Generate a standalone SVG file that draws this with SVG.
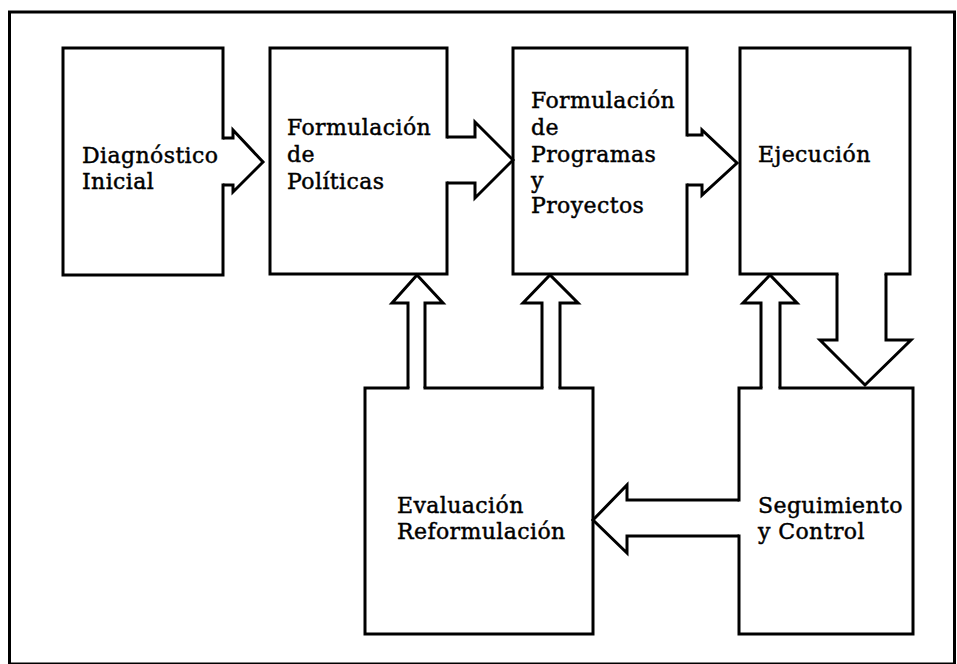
<svg xmlns="http://www.w3.org/2000/svg" width="957" height="664" viewBox="0 0 957 664">
  <style>
    .frame { fill: none; stroke: #000; stroke-width: 3; }
    .box { fill: #fff; stroke: #000; stroke-width: 3; stroke-linejoin: miter; }
    .edge { fill: none; stroke: #000; stroke-width: 3; stroke-linejoin: miter; }
    .gap { fill: #fff; stroke: none; }
    .label { font-family: "DejaVu Serif", "Liberation Serif", serif; font-size: 22px; letter-spacing: 0.4px; fill: #000; stroke: #000; stroke-width: 0.45px; }
  </style>
  <rect width="957" height="664" fill="#fff"/>
  <!-- outer border -->
  <rect class="frame" x="9.5" y="12" width="945" height="652"/>

  <g id="diagnostico">
    <rect class="box" x="63" y="48" width="160" height="227"/>
    <text class="label" x="82" y="163">Diagnóstico</text>
    <text class="label" x="82" y="189">Inicial</text>
  </g>

  <g id="formulacion-politicas">
    <rect class="box" x="270" y="48" width="177" height="226"/>
    <text class="label" x="287" y="135">Formulación</text>
    <text class="label" x="287" y="162">de</text>
    <text class="label" x="287" y="189">Políticas</text>
  </g>

  <g id="formulacion-programas">
    <rect class="box" x="513" y="48" width="174" height="226"/>
    <text class="label" x="531" y="108">Formulación</text>
    <text class="label" x="531" y="135">de</text>
    <text class="label" x="531" y="162">Programas</text>
    <text class="label" x="531" y="188">y</text>
    <text class="label" x="531" y="213">Proyectos</text>
  </g>

  <g id="ejecucion">
    <rect class="box" x="740" y="48" width="170" height="226"/>
    <text class="label" x="758" y="162">Ejecución</text>
  </g>

  <g id="evaluacion">
    <rect class="box" x="365" y="388" width="228" height="246"/>
    <text class="label" x="397" y="513">Evaluación</text>
    <text class="label" x="397" y="539">Reformulación</text>
  </g>

  <g id="seguimiento">
    <rect class="box" x="739" y="388" width="174" height="246"/>
    <text class="label" x="758" y="513">Seguimiento</text>
    <text class="label" x="758" y="539">y Control</text>
  </g>

  <g id="connectors">
    <!-- Diagnóstico -> Políticas -->
    <rect class="gap" x="221" y="139.5" width="4" height="44"/>
    <polyline class="edge" points="223,138 233,138 233,130 263,162 233,192 233,185 223,185"/>
    <!-- Políticas -> Programas -->
    <rect class="gap" x="445" y="138.5" width="4" height="43"/>
    <polyline class="edge" points="447,137 475,137 475,122 513,160 475,198 475,183 447,183"/>
    <!-- Programas -> Ejecución -->
    <rect class="gap" x="685" y="136.5" width="4" height="47"/>
    <polyline class="edge" points="687,135 702,135 702,130 737,163 702,195 702,185 687,185"/>
    <!-- Evaluación -> Políticas -->
    <rect class="gap" x="409.5" y="386" width="14" height="4"/>
    <polyline class="edge" points="408,388 408,303 392,303 417,275 443,303 425,303 425,388"/>
    <!-- Evaluación -> Programas -->
    <rect class="gap" x="543.5" y="386" width="15" height="4"/>
    <polyline class="edge" points="542,388 542,303 523,303 550,275 578,303 560,303 560,388"/>
    <!-- Seguimiento -> Ejecución -->
    <rect class="gap" x="762.5" y="386" width="16" height="4"/>
    <polyline class="edge" points="761,388 761,303 743,303 770,275 797,303 780,303 780,388"/>
    <!-- Ejecución -> Seguimiento -->
    <rect class="gap" x="838.5" y="272" width="46" height="4"/>
    <polyline class="edge" points="837,274 837,340 820,340 865,385 911,340 886,340 886,274"/>
    <!-- Seguimiento -> Evaluación -->
    <rect class="gap" x="737" y="501.5" width="4" height="33"/>
    <polyline class="edge" points="739,500 627,500 627,485 593,520 627,553 627,536 739,536"/>
  </g>
</svg>
